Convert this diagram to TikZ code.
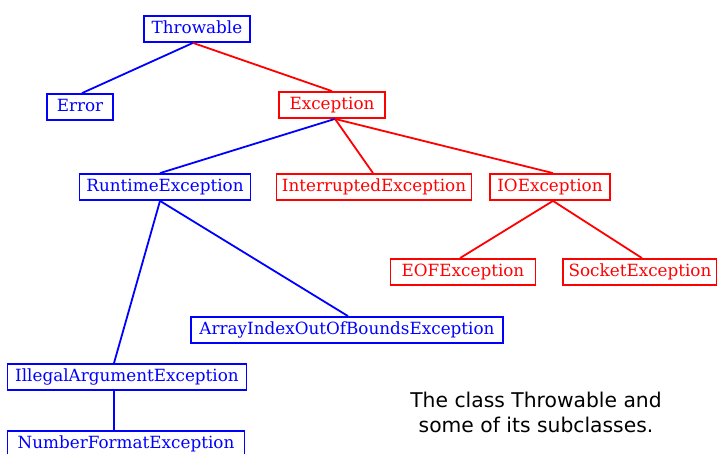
\documentclass[tikz,border=0pt]{standalone}
\usepackage{fontspec}
\setmainfont{DejaVu Serif}
\newfontfamily\capfont{DejaVu Sans}
\usepackage{xcolor}
\usetikzlibrary{positioning}

\begin{document}
\begin{tikzpicture}[
    x=1pt, y=-1pt,
    font=\fontsize{16.8}{19}\selectfont,
    bluebox/.style={draw=blue, text=blue, line width=1.8pt, inner xsep=3pt,
                    minimum height=26pt, text height=12pt, text depth=3.5pt},
    redbox/.style={bluebox, draw=red, text=red},
    blueline/.style={draw=blue, line width=1.8pt},
    redline/.style={draw=red, line width=1.8pt},
]
\useasboundingbox (0,0) rectangle (717,453);

% --- top of the hierarchy ---
\node[bluebox, minimum width=106pt] (thr) at (197,29)  {Throwable};
\node[bluebox, minimum width=66pt]  (err) at (80,107)  {Error};
\node[redbox,  minimum width=106pt] (exc) at (332,105) {Exception};

% --- subclasses of Exception ---
\node[bluebox, minimum width=171pt] (rt)  at (165,187) {RuntimeException};
\node[redbox,  minimum width=195pt] (int) at (374,187) {InterruptedException};
\node[redbox,  minimum width=120pt] (io)  at (550,187) {IOException};
\node[redbox,  minimum width=145pt] (eof) at (463,272) {EOFException};
\node[redbox,  minimum width=154pt] (sock) at (640,272) {SocketException};

% --- unchecked branch ---
\node[bluebox, minimum width=312pt] (arr) at (347,330) {ArrayIndexOutOfBoundsException};
\node[bluebox, minimum width=239pt] (ill) at (127,377) {IllegalArgumentException};
\node[bluebox, minimum width=237pt] (num) at (126,444) {NumberFormatException};

\node[font=\capfont\fontsize{20.3}{25}\selectfont, align=center] (cap) at (536,412)
     {The class Throwable and\\some of its subclasses.};

% edges
\draw[blueline] ([xshift=-4pt]thr.south) -- ([xshift=2pt]err.north);
\draw[redline]  ([xshift=-4pt]thr.south) -- (exc.north);
\draw[blueline] ([xshift=3pt]exc.south) -- ([xshift=-5pt]rt.north);
\draw[redline]  ([xshift=3pt]exc.south) -- ([xshift=-1pt]int.north);
\draw[redline]  ([xshift=3pt]exc.south) -- ([xshift=3pt]io.north);
\draw[redline]  ([xshift=3pt]io.south) -- ([xshift=-3pt]eof.north);
\draw[redline]  ([xshift=3pt]io.south) -- ([xshift=2pt]sock.north);
\draw[blueline] ([xshift=-5pt]rt.south) -- ([xshift=1pt]arr.north);
\draw[blueline] ([xshift=-5pt]rt.south) -- ([xshift=-13pt]ill.north);
\draw[blueline] ([xshift=-13pt]ill.south) -- ([xshift=-12pt]num.north);

\end{tikzpicture}
\end{document}
